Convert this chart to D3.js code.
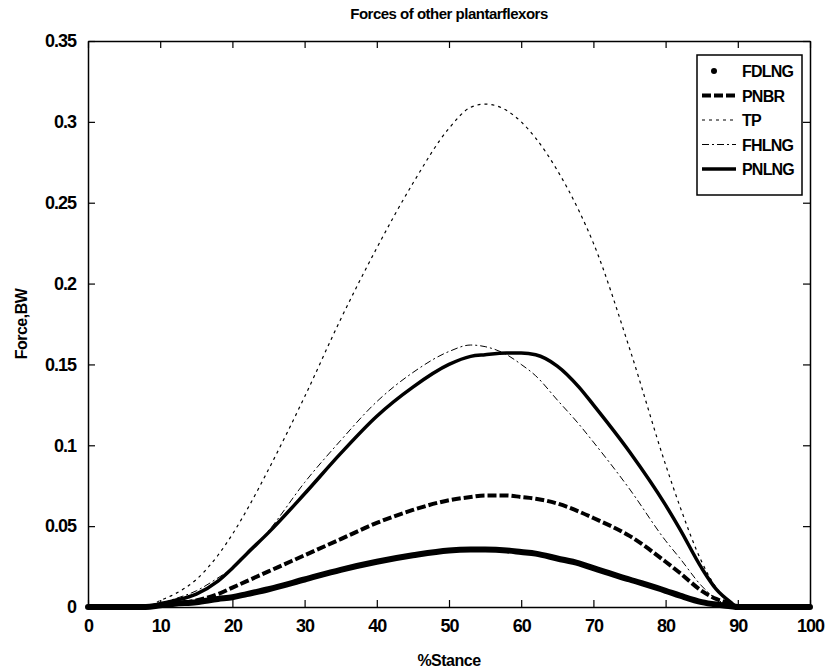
<!DOCTYPE html>
<html>
<head>
<meta charset="utf-8">
<script src="https://cdn.jsdelivr.net/npm/d3@7"></script>
<style>
  body { margin: 0; background: #fff; }
  text { font-family: "Liberation Sans", Arial, sans-serif; font-weight: bold; fill: #000; }
</style>
</head>
<body>
<div id="plot"></div>
<script>
// %stance sample points and forces (BW)
const stance = [0, 5, 8, 10, 12, 15, 18, 20, 22, 25, 30, 35, 40, 45, 50, 53, 55, 58, 60, 62, 65, 68, 70, 75, 80, 82, 85, 87, 89, 90, 95, 100];
const fdlng  = [0, 0, 0, 0.001, 0.002, 0.003, 0.005, 0.006, 0.008, 0.011, 0.017, 0.023, 0.028, 0.032, 0.035, 0.0355, 0.0355, 0.035, 0.034, 0.033, 0.030, 0.027, 0.024, 0.017, 0.010, 0.007, 0.003, 0.0015, 0.0005, 0, 0, 0];
const pnbr   = [0, 0, 0, 0.001, 0.002, 0.004, 0.008, 0.012, 0.016, 0.022, 0.032, 0.042, 0.052, 0.060, 0.066, 0.068, 0.069, 0.069, 0.068, 0.067, 0.064, 0.059, 0.055, 0.044, 0.028, 0.021, 0.010, 0.005, 0.002, 0, 0, 0];
const tp     = [0, 0, 0, 0.004, 0.008, 0.017, 0.032, 0.045, 0.060, 0.085, 0.130, 0.178, 0.222, 0.262, 0.296, 0.309, 0.311, 0.307, 0.300, 0.290, 0.270, 0.245, 0.225, 0.160, 0.088, 0.062, 0.028, 0.012, 0.003, 0, 0, 0];
const fhlng  = [0, 0, 0, 0.002, 0.005, 0.010, 0.018, 0.024, 0.032, 0.047, 0.077, 0.103, 0.127, 0.145, 0.158, 0.162, 0.161, 0.156, 0.150, 0.143, 0.128, 0.113, 0.102, 0.073, 0.041, 0.030, 0.013, 0.005, 0.001, 0, 0, 0];
const pnlng  = [0, 0, 0, 0.002, 0.004, 0.008, 0.016, 0.024, 0.033, 0.046, 0.070, 0.095, 0.118, 0.136, 0.150, 0.155, 0.156, 0.157, 0.157, 0.156, 0.149, 0.136, 0.125, 0.096, 0.063, 0.048, 0.024, 0.011, 0.003, 0, 0, 0];

const seriesNames = ["FDLNG", "PNBR", "TP", "FHLNG", "PNLNG"];
const xTicks = [0, 10, 20, 30, 40, 50, 60, 70, 80, 90, 100];
const yTicks = [0, 0.05, 0.1, 0.15, 0.2, 0.25, 0.3, 0.35];

const width = 832, height = 672;
const margin = { left: 88, right: 22, top: 41, bottom: 65 };

const svg = d3.select("#plot").append("svg")
    .attr("width", width)
    .attr("height", height);

const x = d3.scaleLinear().domain([0, 100]).range([margin.left, width - margin.right]);
const y = d3.scaleLinear().domain([0, 0.35]).range([height - margin.bottom, margin.top]);

// line styles per series
const styles = {
    FDLNG: { w: 6, dash: null },
    PNBR:  { w: 4, dash: "9,3" },
    TP:    { w: 1.2, dash: "3,4" },
    FHLNG: { w: 1, dash: "7,3,2,3" },
    PNLNG: { w: 3.5, dash: null }
};
const values = { FDLNG: fdlng, PNBR: pnbr, TP: tp, FHLNG: fhlng, PNLNG: pnlng };

const line = d3.line()
    .x(d => x(d[0]))
    .y(d => y(d[1]))
    .curve(d3.curveMonotoneX);

seriesNames.forEach(name => {
    const pts = stance.map((s, i) => [s, values[name][i]]);
    svg.append("path")
        .datum(pts)
        .attr("fill", "none")
        .attr("stroke", "#000")
        .attr("stroke-width", styles[name].w)
        .attr("stroke-dasharray", styles[name].dash)
        .attr("stroke-linecap", name === "FDLNG" ? "round" : "butt")
        .attr("d", line);
});

// axes (matlab style box with inward ticks)
const tickLen = 7;
svg.append("g")
    .attr("transform", `translate(0,${y(0)})`)
    .call(d3.axisBottom(x).tickValues(xTicks).tickSizeInner(-tickLen).tickSizeOuter(0).tickPadding(12))
    .call(g => g.selectAll("text").attr("font-size", 18).attr("letter-spacing", -1));
svg.append("g")
    .attr("transform", `translate(0,${y(0.35)})`)
    .call(d3.axisTop(x).tickValues(xTicks).tickSizeInner(-tickLen).tickSizeOuter(0).tickFormat(""));
svg.append("g")
    .attr("transform", `translate(${x(0)},0)`)
    .call(d3.axisLeft(y).tickValues(yTicks).tickSizeInner(-tickLen).tickSizeOuter(0).tickPadding(12)
        .tickFormat(d => d3.format("")(+d.toFixed(2))))
    .call(g => g.selectAll("text").attr("font-size", 18).attr("letter-spacing", -1));
svg.append("g")
    .attr("transform", `translate(${x(100)},0)`)
    .call(d3.axisRight(y).tickValues(yTicks).tickSizeInner(-tickLen).tickSizeOuter(0).tickFormat(""));
svg.selectAll(".domain").attr("stroke-width", 1.5);
svg.selectAll(".tick line").attr("stroke-width", 1.2);

// titles
svg.append("text")
    .attr("x", (x(0) + x(100)) / 2)
    .attr("y", 19)
    .attr("text-anchor", "middle")
    .attr("font-size", 15)
    .attr("letter-spacing", -0.5)
    .text("Forces of other plantarflexors");
svg.append("text")
    .attr("x", (x(0) + x(100)) / 2)
    .attr("y", 666)
    .attr("text-anchor", "middle")
    .attr("font-size", 16)
    .attr("letter-spacing", -0.5)
    .text("%Stance");
svg.append("text")
    .attr("transform", `translate(27,${(y(0) + y(0.35)) / 2}) rotate(-90)`)
    .attr("text-anchor", "middle")
    .attr("font-size", 16)
    .attr("letter-spacing", -0.5)
    .text("Force,BW");

// legend
const lg = svg.append("g").attr("transform", "translate(697,55)");
lg.append("rect")
    .attr("width", 105).attr("height", 140)
    .attr("fill", "#fff").attr("stroke", "#000").attr("stroke-width", 1.5);
seriesNames.forEach((name, i) => {
    const ly = 16 + i * 24.5;
    if (name === "FDLNG") {
        lg.append("circle").attr("cx", 17).attr("cy", ly).attr("r", 3).attr("fill", "#000");
    } else {
        lg.append("line")
            .attr("x1", 5).attr("x2", 39).attr("y1", ly).attr("y2", ly)
            .attr("stroke", "#000")
            .attr("stroke-width", styles[name].w)
            .attr("stroke-dasharray", styles[name].dash);
    }
    lg.append("text")
        .attr("x", 45).attr("y", ly + 6)
        .attr("font-size", 16)
        .attr("letter-spacing", -0.8)
        .text(name);
});
</script>
</body>
</html>
